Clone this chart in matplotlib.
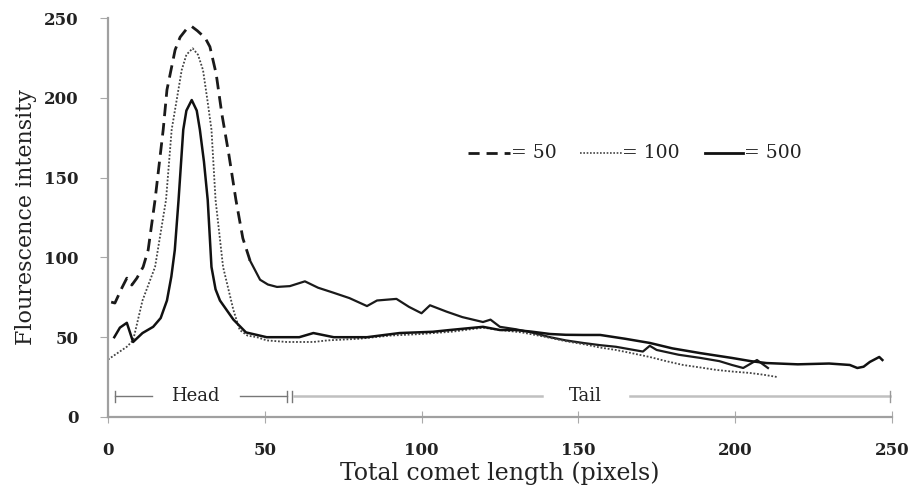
import numpy as np
import matplotlib
matplotlib.use("Agg")
import matplotlib.pyplot as plt

plt.rcParams['font.family'] = ['DejaVu Serif', 'Liberation Serif']

# comet profiles (x = pixel position, y = intensity)
x50 = [1, 2.2, 4.4, 6, 7.6, 9.2, 11.2, 12.8, 15, 17.6, 18.8, 21.4, 23, 25, 26.7, 28.5, 31,
       32.5, 34.5, 36.3, 38.5, 40.8, 43, 45.3, 48.5, 51, 53.9, 58, 62.8, 67, 71.7, 77, 82.6,
       85.8, 92, 96, 100, 102.7, 108, 113, 119.6, 122, 125, 130, 135, 141, 146, 151.5, 157,
       162, 170.6, 172.8, 175, 182, 189, 195, 199, 202.6, 207, 210.5]
y50 = [72, 71.4, 80.8, 87, 82.7, 87, 94, 104.6, 136, 180, 205, 230, 238, 243, 244.7, 242, 237.5,
       232, 215, 190, 165, 136, 112, 98, 86, 83, 81.5, 82, 85, 81, 78, 74.5, 69.5,
       73, 74, 69, 65, 70, 66, 62.6, 59.5, 61, 56.5, 55, 53, 50, 48, 46.4, 45,
       44, 41, 44.6, 42, 39, 37, 35, 32.6, 30.7, 35.7, 30.7]

x100 = [0, 3, 6, 8, 11, 15, 18.5, 20.3, 21.9, 23.5, 25, 27, 28.7, 30.3, 31.7, 33, 34.3, 36.7,
        40, 42, 44.5, 47.5, 50.6, 57, 61, 65.5, 70, 80, 90, 100, 110, 119.6, 125, 132, 140,
        146, 152, 157, 162, 167, 172.8, 178, 183.4, 189, 194, 199, 204.7, 209, 213.6]
y100 = [36, 40, 44, 48, 73, 94, 136, 180, 198.6, 217.4, 227, 231, 227, 217.4, 198.6, 180, 136, 94,
        67, 54.5, 51, 50, 48, 47, 47, 47, 48, 49, 51, 52, 53.5, 56, 54.5, 53, 50,
        47.5, 45.5, 43.5, 42, 40, 37.6, 35, 32.6, 31, 29.5, 28.5, 27.6, 26.5, 25]

x500 = [2, 3.8, 6, 8, 11, 14.4, 16.8, 18.8, 20.2, 21.3, 22.5, 24, 25, 26.7, 28.3, 29.3, 30.6,
        31.8, 33, 34.3, 35.7, 40, 44, 50.6, 55, 61, 65.5, 72, 82.6, 93, 103.6, 109, 119.6,
        125, 130, 135, 141, 146, 151.5, 157, 165, 172.8, 180, 189, 199, 205, 210, 220,
        230, 236.6, 239, 241, 243, 246, 247]
y500 = [50, 56, 59, 47, 52.6, 56.5, 62, 73, 88, 104.6, 136, 180, 192, 198.6, 192, 180, 160,
        136, 94, 80, 73, 61, 53, 50, 50, 50, 52.6, 50, 50, 52.6, 53.4, 54.5, 56.5,
        54.5, 54.5, 53.5, 52, 51.5, 51.4, 51.4, 49, 46.4, 43, 40, 37, 35, 33.8, 33,
        33.5, 32.6, 30.7, 31.5, 34.5, 37.6, 35.7]

x_ticks = [0, 50, 100, 150, 200, 250]
y_ticks = [0, 50, 100, 150, 200, 250]

fig = plt.figure(figsize=(9.1, 4.95), dpi=100)
ax = fig.add_axes([0.1187, 0.1576, 0.8613, 0.806])

# dashed line looks solid once the data gets dense after the peak
split = 24
ax.plot(x50[:split], y50[:split], color='#1a1a1a', lw=2.0, ls=(0, (4.5, 2.5)))
ax.plot(x50[split - 1:], y50[split - 1:], color='#1a1a1a', lw=1.6)
ax.plot(x100, y100, color='#444444', lw=1.3, ls=(0, (1, 1)))
ax.plot(x500, y500, color='#111111', lw=1.8)

# legend written as text like the original
ly = 165.6
ax.plot([114.8, 128.2], [ly, ly], color='#1a1a1a', lw=2.0, ls=(0, (4, 2.5)))
ax.text(128.4, ly, '= 50', fontsize=13.5, va='center', ha='left', color='#222222')
ax.plot([150.5, 163.9], [ly, ly], color='#444444', lw=1.2, ls=(0, (1, 1)))
ax.text(164.1, ly, '= 100', fontsize=13.5, va='center', ha='left', color='#222222')
ax.plot([190.4, 202.5], [ly, ly], color='#111111', lw=2.0)
ax.text(202.7, ly, '= 500', fontsize=13.5, va='center', ha='left', color='#222222')

# head / tail brackets
hy = 13
ax.plot([2.2, 14], [hy, hy], color='#777777', lw=1.0)
ax.plot([42, 57], [hy, hy], color='#777777', lw=1.0)
for xv in [2.2, 57, 58.7]:
    ax.plot([xv, xv], [hy - 3.5, hy + 3.5], color='#777777', lw=1.0)
ax.text(27.7, hy, 'Head', fontsize=13, ha='center', va='center', color='#222222')
ax.plot([59.3, 138.3], [hy, hy], color='#c0c0c0', lw=1.8)
ax.plot([166.5, 249.4], [hy, hy], color='#c0c0c0', lw=1.8)
ax.plot([249.4, 249.4], [hy - 3.5, hy + 3.5], color='#999999', lw=1.0)
ax.text(152.4, hy, 'Tail', fontsize=13, ha='center', va='center', color='#222222')

ax.set_xlim(0, 250)
ax.set_ylim(0, 250)
ax.set_xticks(x_ticks)
ax.set_yticks(y_ticks)
for lab in ax.get_xticklabels() + ax.get_yticklabels():
    lab.set_fontweight('bold')
    lab.set_fontsize(12)
    lab.set_color('#222222')
ax.tick_params(axis='x', direction='inout', length=8, color='#aaaaaa', pad=14)
ax.tick_params(axis='y', direction='out', length=6, color='#aaaaaa', pad=15)
for s in ['top', 'right']:
    ax.spines[s].set_visible(False)
for s in ['left', 'bottom']:
    ax.spines[s].set_color('#a0a0a0')
    ax.spines[s].set_linewidth(1.6)

ax.set_xlabel('Total comet length (pixels)', fontsize=17, labelpad=2, color='#222222')
ax.set_ylabel('Flourescence intensity', fontsize=16, labelpad=5, color='#222222')

fig.savefig('out.png', dpi=100)
